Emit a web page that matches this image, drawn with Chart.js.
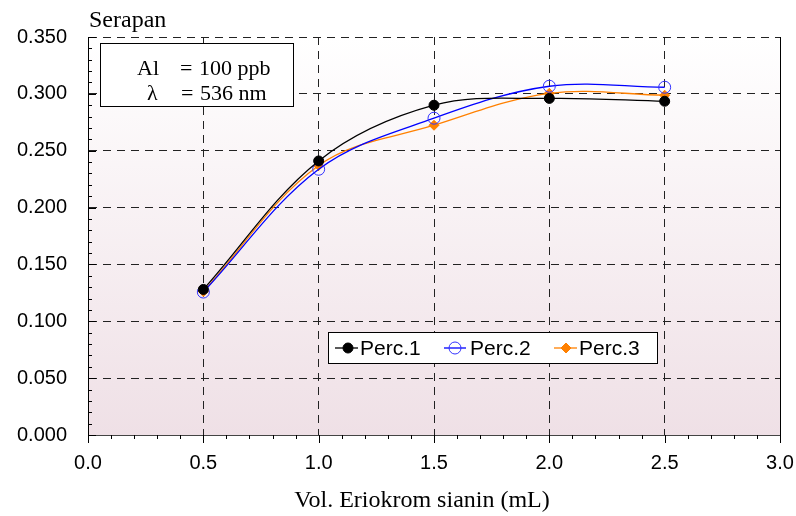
<!DOCTYPE html>
<html>
<head>
<meta charset="utf-8">
<script src="https://cdn.jsdelivr.net/npm/chart.js@4"></script>
<style>
  html, body { margin: 0; padding: 0; background: #fff; }
  #wrap { width: 796px; height: 516px; }
</style>
</head>
<body>
<div id="wrap"><canvas id="myChart" width="796" height="516"></canvas></div>
<script>
// data
const volumes = [0.5, 1.0, 1.5, 2.0, 2.5];
const perc1 = [0.128, 0.241, 0.290, 0.296, 0.2935];
const perc2 = [0.1257, 0.2337, 0.2786, 0.3067, 0.3058];
const perc3 = [0.1262, 0.2370, 0.2724, 0.3005, 0.2988];
const seriesNames = ['Perc.1', 'Perc.2', 'Perc.3'];
const xTicks = [0, 0.5, 1.0, 1.5, 2.0, 2.5, 3.0];
const yTicks = [0, 0.05, 0.10, 0.15, 0.20, 0.25, 0.30, 0.35];

const toPoints = (ys) => volumes.map((x, i) => ({ x: x, y: ys[i] }));

const serif = '"Liberation Serif", "Times New Roman", serif';
Chart.defaults.font.family = '"Liberation Sans", Arial, sans-serif';
Chart.defaults.color = '#000';

// background gradient, extra ticks, labels, boxes
const decor = {
    id: 'decor',
    beforeDraw(chart) {
        const { ctx, chartArea: a } = chart;
        const g = ctx.createLinearGradient(0, a.top, 0, a.bottom);
        g.addColorStop(0, '#ffffff');
        g.addColorStop(1, '#efe0e6');
        ctx.save();
        ctx.fillStyle = g;
        ctx.fillRect(a.left, a.top, a.right - a.left, a.bottom - a.top);
        ctx.restore();
    },
    afterDraw(chart) {
        const { ctx, chartArea: a, scales } = chart;
        ctx.save();
        ctx.strokeStyle = '#000';
        ctx.lineWidth = 1;
        // right frame
        ctx.beginPath();
        ctx.moveTo(Math.round(a.right) + 0.5, a.top);
        ctx.lineTo(Math.round(a.right) + 0.5, a.bottom);
        ctx.stroke();
        // y ticks (inside)
        ctx.beginPath();
        for (let i = 0; i <= 35; i++) {
            const y = Math.round(scales.y.getPixelForValue(i / 100)) + 0.5;
            const len = i % 5 === 0 ? 8 : 4;
            ctx.moveTo(a.left, y);
            ctx.lineTo(a.left + len, y);
        }
        // x ticks (outside)
        for (let i = 0; i <= 30; i++) {
            const x = Math.round(scales.x.getPixelForValue(i / 10)) + 0.5;
            const len = i % 5 === 0 ? 8 : 4;
            ctx.moveTo(x, a.bottom);
            ctx.lineTo(x, a.bottom + len);
        }
        ctx.stroke();

        // axis titles
        ctx.fillStyle = '#000';
        ctx.font = '24px ' + serif;
        ctx.textBaseline = 'alphabetic';
        ctx.textAlign = 'left';
        ctx.fillText('Serapan', 89, 27);
        ctx.textAlign = 'center';
        ctx.fillText('Vol. Eriokrom sianin (mL)', (a.left + a.right) / 2 - 12, 507);

        // annotation box
        ctx.fillStyle = '#fff';
        ctx.fillRect(100.5, 43.5, 193, 63);
        ctx.strokeRect(100.5, 43.5, 193, 63);
        ctx.fillStyle = '#000';
        ctx.font = '22px ' + serif;
        ctx.textAlign = 'left';
        ctx.fillText('Al', 137, 75);
        ctx.fillText('=', 180, 75);
        ctx.fillText('100 ppb', 199, 75);
        ctx.fillText('\u03bb', 147, 100);
        ctx.fillText('=', 181, 100);
        ctx.fillText('536 nm', 200, 100);

        // legend
        ctx.fillStyle = '#fff';
        ctx.fillRect(328.5, 332.5, 329, 31);
        ctx.strokeRect(328.5, 332.5, 329, 31);
        const items = [
            { x0: 335, x1: 358, mx: 348, tx: 360 },
            { x0: 444, x1: 466, mx: 455, tx: 470 },
            { x0: 554, x1: 577, mx: 566, tx: 579 }
        ];
        const ly = 348;
        chart.data.datasets.forEach((ds, i) => {
            const it = items[i];
            ctx.strokeStyle = ds.borderColor;
            ctx.lineWidth = 1.3;
            ctx.beginPath();
            ctx.moveTo(it.x0, ly);
            ctx.lineTo(it.x1, ly);
            ctx.stroke();
            ctx.fillStyle = ds.pointBackgroundColor;
            ctx.strokeStyle = ds.pointBorderColor;
            ctx.lineWidth = ds.pointBorderWidth;
            ctx.beginPath();
            if (ds.pointStyle === 'rectRot') {
                const r = ds.pointRadius;
                ctx.moveTo(it.mx, ly - r);
                ctx.lineTo(it.mx + r, ly);
                ctx.lineTo(it.mx, ly + r);
                ctx.lineTo(it.mx - r, ly);
                ctx.closePath();
            } else {
                ctx.arc(it.mx, ly, ds.pointRadius, 0, Math.PI * 2);
            }
            ctx.fill();
            ctx.stroke();
            ctx.fillStyle = '#000';
            ctx.font = '21px "Liberation Sans", Arial, sans-serif';
            ctx.textBaseline = 'middle';
            ctx.fillText(ds.label, it.tx, ly + 1);
        });
        ctx.restore();
    }
};

const data = {
    datasets: [{
        label: seriesNames[0],
        data: toPoints(perc1),
        borderColor: '#000000',
        borderWidth: 1.3,
        pointStyle: 'circle',
        pointRadius: 5,
        pointBackgroundColor: '#000000',
        pointBorderColor: '#000000',
        pointBorderWidth: 1,
        tension: 0.35
    }, {
        label: seriesNames[1],
        data: toPoints(perc2),
        borderColor: '#0000ff',
        borderWidth: 1.3,
        pointStyle: 'circle',
        pointRadius: 6,
        pointBackgroundColor: 'rgba(0,0,0,0)',
        pointBorderColor: '#3333ff',
        pointBorderWidth: 1,
        tension: 0.35
    }, {
        label: seriesNames[2],
        data: toPoints(perc3),
        borderColor: '#ff8000',
        borderWidth: 1.3,
        pointStyle: 'rectRot',
        pointRadius: 5,
        pointBackgroundColor: '#ff8000',
        pointBorderColor: '#ff8000',
        pointBorderWidth: 1,
        tension: 0.35
    }]
};

const config = {
    type: 'line',
    data: data,
    options: {
        responsive: false,
        animation: false,
        devicePixelRatio: 1,
        layout: { padding: { top: 37, right: 16, left: 0, bottom: 0 } },
        plugins: {
            legend: { display: false },
            tooltip: { enabled: false }
        },
        scales: {
            x: {
                type: 'linear',
                min: 0,
                max: 3,
                afterBuildTicks: (s) => { s.ticks = xTicks.map(v => ({ value: v })); },
                afterFit: (s) => { s.height = 81; s.paddingLeft = 0; s.paddingRight = 0; },
                ticks: {
                    padding: 16,
                    maxRotation: 0,
                    font: { size: 20 },
                    callback: (v) => Number(v).toFixed(1)
                },
                grid: { color: '#222', lineWidth: 1, drawTicks: false },
                border: { display: true, color: '#444', width: 1, dash: [8, 6] }
            },
            y: {
                min: 0,
                max: 0.35,
                afterBuildTicks: (s) => { s.ticks = yTicks.map(v => ({ value: v })); },
                afterFit: (s) => { s.width = 88; s.paddingTop = 0; s.paddingBottom = 0; },
                ticks: {
                    padding: 21,
                    font: { size: 20 },
                    callback: (v) => Number(v).toFixed(3)
                },
                grid: { color: '#222', lineWidth: 1, drawTicks: false },
                border: { display: true, color: '#000', width: 1, dash: [8, 6] }
            }
        }
    },
    plugins: [decor]
};

let myChart = new Chart(document.getElementById('myChart'), config);
</script>
</body>
</html>
